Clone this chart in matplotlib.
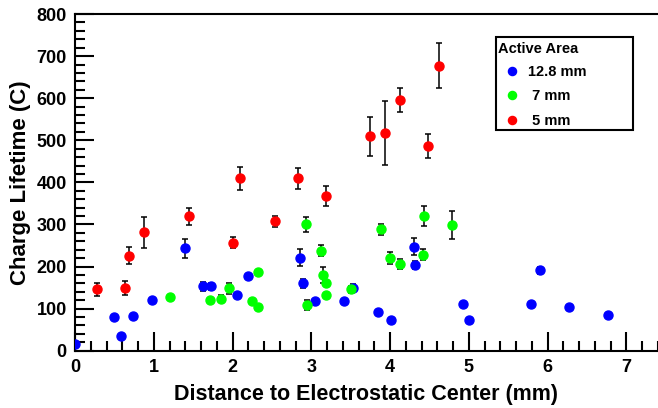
import numpy as np
import matplotlib.pyplot as plt
from matplotlib.ticker import MultipleLocator
from matplotlib.patches import Rectangle

plt.rcParams['font.family'] = ['Liberation Sans', 'DejaVu Sans']
plt.rcParams['font.weight'] = 'bold'

# 12.8 mm active area
x_big = [0.0, 0.49, 0.59, 0.74, 0.98, 1.40, 1.62, 1.72, 2.06, 2.20, 2.85, 2.90, 3.04,
         3.42, 3.53, 3.85, 4.01, 4.30, 4.31, 4.92, 5.00, 5.79, 5.90, 6.27, 6.76]
y_big = [16, 79, 36, 82, 120, 243, 153, 153, 132, 177, 221, 160, 117,
         118, 150, 91, 72, 247, 203, 110, 72, 112, 191, 105, 84]
e_big = [0, 0, 0, 0, 0, 22, 10, 8, 0, 0, 20, 10, 0,
         0, 9, 0, 0, 20, 10, 0, 0, 0, 8, 0, 0]

# 7 mm active area
x_mid = [1.21, 1.71, 1.85, 1.96, 2.25, 2.32, 2.32, 2.93, 2.94, 3.12, 3.15, 3.18, 3.19,
         3.50, 3.88, 4.00, 4.13, 4.42, 4.43, 4.78]
y_mid = [127, 120, 124, 148, 117, 187, 103, 300, 108, 237, 180, 132, 161,
         146, 288, 220, 206, 228, 320, 298]
e_mid = [0, 0, 8, 14, 0, 0, 0, 17, 12, 13, 18, 0, 0,
         8, 14, 15, 12, 13, 23, 33]

# 5 mm active area
x_small = [0.28, 0.64, 0.68, 0.88, 1.45, 2.00, 2.09, 2.54, 2.83, 3.19,
           3.74, 3.94, 4.13, 4.48, 4.62]
y_small = [146, 149, 226, 281, 319, 256, 410, 307, 410, 368,
           509, 518, 596, 487, 677]
e_small = [16, 17, 20, 37, 20, 13, 27, 12, 25, 24,
           47, 76, 28, 29, 53]

W, H = 658, 408
fig = plt.figure(figsize=(W / 100, H / 100), dpi=100)
ax = fig.add_axes([75 / W, 57.3 / H, 583 / W, 336.7 / H])

series = [(x_big, y_big, e_big, '#0000ff', '12.8 mm'),
          (x_mid, y_mid, e_mid, '#00ff00', ' 7 mm'),
          (x_small, y_small, e_small, '#ff0000', ' 5 mm')]
for x, y, e, c, lab in series:
    ax.errorbar(x, y, yerr=e, fmt='none', ecolor='black', elinewidth=1.1,
                capsize=2.5, capthick=1.1, zorder=2)
    ax.plot(x, y, 'o', color=c, ms=6.5, mec=c, label=lab, zorder=3)

ax.set_xlim(0, 7.4)
ax.set_ylim(0, 800)
ax.xaxis.set_major_locator(MultipleLocator(1))
ax.xaxis.set_minor_locator(MultipleLocator(0.2))
ax.yaxis.set_major_locator(MultipleLocator(100))
ax.yaxis.set_minor_locator(MultipleLocator(20))
ax.tick_params(which='both', direction='in', width=1.5, labelsize=13, top=False, right=False)
ax.tick_params(which='major', length=14, pad=6)
ax.tick_params(which='minor', length=7)
for s in ['left', 'bottom', 'top']:
    ax.spines[s].set_linewidth(1.5)
ax.spines['right'].set_visible(False)

ax.set_xlabel('Distance to Electrostatic Center (mm)', fontsize=15.5, fontweight='bold', labelpad=6)
ax.set_ylabel('Charge Lifetime (C)', fontsize=16, fontweight='bold', labelpad=4)

# legend: box and title drawn by hand, entries from ax.legend
fig.patches.append(Rectangle((496 / W, 1 - 130 / H), 137 / W, 93 / H, transform=fig.transFigure,
                             fill=False, edgecolor='black', lw=1.5, zorder=5))
fig.text(498 / W, 1 - 49 / H, 'Active Area', fontsize=10.5, fontweight='bold', va='center')
ax.legend(loc='upper left', bbox_to_anchor=(504.5 / W, 1 - 65 / H), bbox_transform=fig.transFigure,
          fontsize=10.5, frameon=False, borderpad=0, borderaxespad=0,
          handlelength=1.0, handletextpad=0.6, markerscale=0.9, labelspacing=0.72)

fig.savefig('out.png', dpi=100)
